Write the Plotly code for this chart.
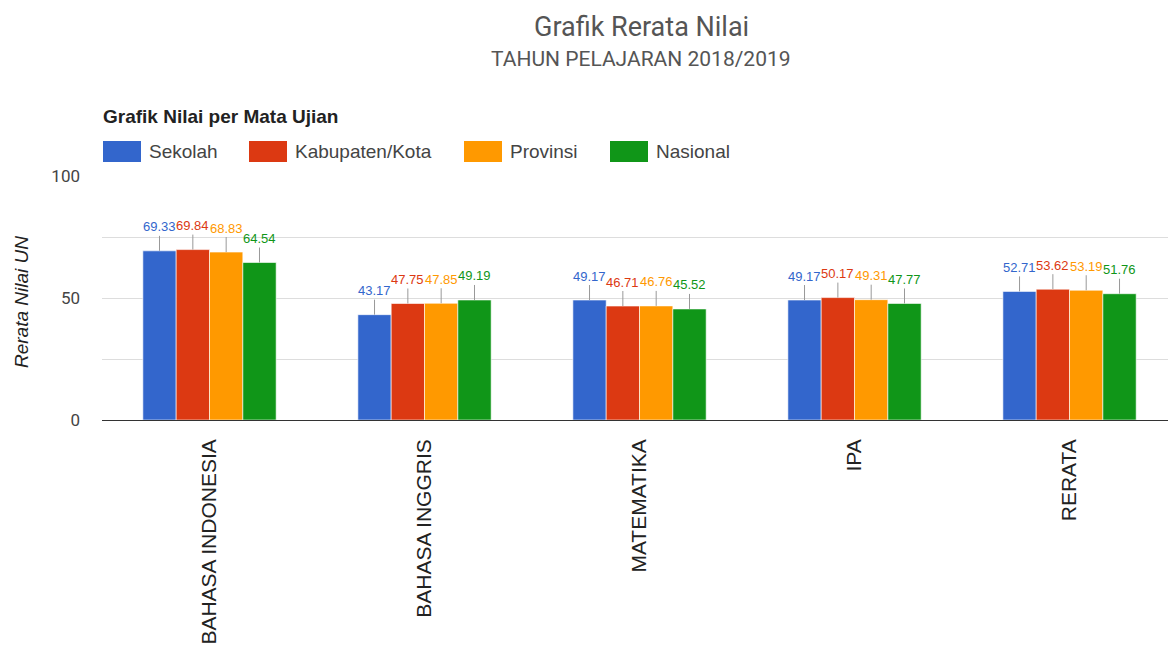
import plotly.graph_objects as go

categories = ["BAHASA INDONESIA", "BAHASA INGGRIS", "MATEMATIKA", "IPA", "RERATA"]
series_names = ["Sekolah", "Kabupaten/Kota", "Provinsi", "Nasional"]
sekolah = [69.33, 43.17, 49.17, 49.17, 52.71]
kabupaten = [69.84, 47.75, 46.71, 50.17, 53.62]
provinsi = [68.83, 47.85, 46.76, 49.31, 53.19]
nasional = [64.54, 49.19, 45.52, 47.77, 51.76]
series_values = [sekolah, kabupaten, provinsi, nasional]
colors = ["#3366cc", "#dc3912", "#ff9900", "#109618"]
y_tickvals = [0, 25, 50, 75, 100]
y_ticktext = ["0", "", "50", "", "100"]

FONT = "Arial, Liberation Sans, sans-serif"
BARGAP = 0.38
PLOT_TOP, PLOT_H, PLOT_L, PLOT_W = 176, 244, 102, 1066


def py(p):
    return (PLOT_TOP + PLOT_H - p) / PLOT_H


def px(p):
    return (p - PLOT_L) / PLOT_W


fig = go.Figure()
for name, vals, col in zip(series_names, series_values, colors):
    fig.add_trace(go.Bar(
        name=name, x=list(range(len(categories))), y=vals,
        marker=dict(color=col, line=dict(color="rgba(255,255,255,0.6)", width=1)),
        showlegend=False, hoverinfo="skip",
    ))

# data labels with stems
n = len(series_names)
bw = (1 - BARGAP) / n
for j, (vals, col) in enumerate(zip(series_values, colors)):
    for i, v in enumerate(vals):
        fig.add_annotation(
            x=i + (j - (n - 1) / 2) * bw, y=v, xref="x", yref="y",
            text=f"{v:.2f}", showarrow=True, arrowhead=0, arrowwidth=1,
            arrowcolor="#999999", ax=0, ay=-24, standoff=0,
            font=dict(family=FONT, size=13, color=col),
        )

# titles
fig.add_annotation(xref="paper", yref="paper", x=px(641), y=py(27), yanchor="middle",
                   text="Grafik Rerata Nilai", showarrow=False,
                   font=dict(family="Roboto, Arial", size=27, color="#555555"))
fig.add_annotation(xref="paper", yref="paper", x=px(641), y=py(59), yanchor="middle",
                   text="TAHUN PELAJARAN 2018/2019", showarrow=False,
                   font=dict(family="Roboto, Arial", size=21, color="#555555"))
fig.add_annotation(xref="paper", yref="paper", x=px(101), y=py(117), yanchor="middle",
                   xanchor="left", text="<b>Grafik Nilai per Mata Ujian</b>",
                   showarrow=False, font=dict(family=FONT, size=19, color="#222222"))
fig.add_annotation(xref="paper", yref="paper", x=px(21), y=py(302), yanchor="middle",
                   xanchor="center", text="<i>Rerata Nilai UN</i>", textangle=-90,
                   showarrow=False, font=dict(family=FONT, size=19, color="#222222"))

# custom legend
legend_x_px = [103, 249, 464, 610]
for name, col, lx in zip(series_names, colors, legend_x_px):
    fig.add_shape(type="rect", xref="paper", yref="paper",
                  x0=px(lx), x1=px(lx + 38), y0=py(162), y1=py(141),
                  fillcolor=col, line=dict(color=col, width=0))
    fig.add_annotation(xref="paper", yref="paper", x=px(lx + 44),
                       y=py(152), xanchor="left", yanchor="middle", text=name,
                       showarrow=False, font=dict(family=FONT, size=19, color="#444444"))

fig.update_layout(
    width=1168, height=652,
    margin=dict(l=PLOT_L, r=0, t=PLOT_TOP, b=652 - PLOT_TOP - PLOT_H),
    paper_bgcolor="white", plot_bgcolor="white",
    barmode="group", bargap=BARGAP, bargroupgap=0.0,
    font=dict(family=FONT, color="#222222"),
    xaxis=dict(tickmode="array", tickvals=list(range(len(categories))), ticktext=categories,
               tickangle=-90, range=[-0.5, 4.458], showgrid=False, ticks="",
               automargin=False,
               tickfont=dict(family=FONT, size=21, color="#222222"), ticklabelstandoff=14),
    yaxis=dict(range=[0, 100], tickvals=y_tickvals, ticktext=y_ticktext,
               showgrid=True, gridcolor="#dddddd", zeroline=True, zerolinecolor="#333333",
               zerolinewidth=1, automargin=False,
               tickfont=dict(family="Roboto, Arial", size=17, color="#444444"),
               ticklabelstandoff=21),
)

fig.write_html("out.html", config={"displayModeBar": False})
with open("out.html", "r", encoding="utf-8") as f:
    html = f.read()
html = html.replace("<head>", "<head><style>html,body{margin:0;padding:0;overflow:hidden;}</style>", 1)
with open("out.html", "w", encoding="utf-8") as f:
    f.write(html)
